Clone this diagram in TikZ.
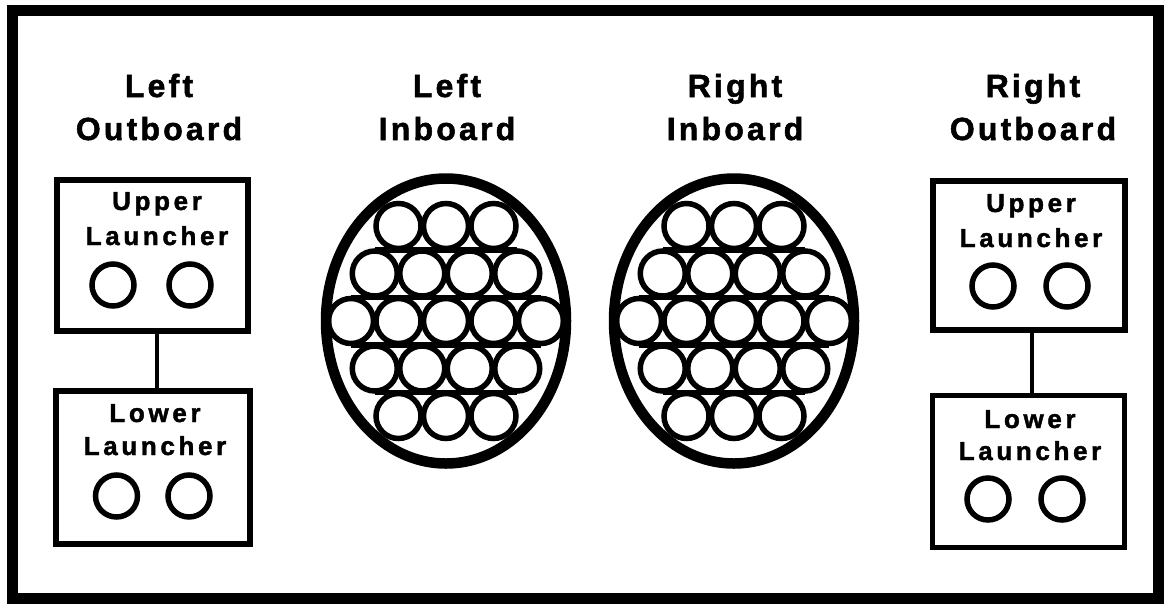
\documentclass[tikz,border=0pt]{standalone}
\usepackage{fontspec}
\setmainfont{Liberation Sans}
\newfontfamily\ttlfont[LetterSpace=10, BoldFeatures={FakeBold=1.6}]{Liberation Sans}
\newfontfamily\lblfont[LetterSpace=14, BoldFeatures={FakeBold=1.6}]{Liberation Sans}
\begin{document}
\begin{tikzpicture}[x=1pt,y=-1pt,
  ttl/.style={font=\ttlfont\bfseries\fontsize{32}{38}\selectfont, anchor=base, inner sep=0pt},
  lbl/.style={font=\lblfont\bfseries\fontsize{26}{30}\selectfont, anchor=base, inner sep=0pt},
  lbox/.style={draw, line width=5.5pt, inner sep=0pt, outer sep=0pt},
  hole/.style={draw, circle, line width=5.5pt, minimum size=42pt, inner sep=0pt, outer sep=0pt},
  link/.style={line width=4.5pt},
  tube/.style={line width=5.5pt},
  pod/.style={line width=10.5pt},
  frame/.style={line width=11pt}
]
\useasboundingbox (0,0) rectangle (1167,606);
\draw[frame] (12.5,10) rectangle (1158,598.5);

% titles
\node[ttl] (t1a) at (159,97) {Left};
\node[ttl] (t1b) at (159,140) {Outboard};
\node[ttl] (t2a) at (447,97) {Left};
\node[ttl] (t2b) at (447,140) {Inboard};
\node[ttl] (t3a) at (735,97) {Right};
\node[ttl] (t3b) at (735,140) {Inboard};
\node[ttl] (t4a) at (1033,97) {Right};
\node[ttl] (t4b) at (1033,140) {Outboard};

% left outboard launchers
\node[lbox, minimum width=191pt, minimum height=151pt] (lu) at (152.5,255.5) {};
\node[lbl] (lu1) at (157,210) {Upper};
\node[lbl] (lu2) at (157,245) {Launcher};
\node[hole] (luc1) at (113,285) {};
\node[hole] (luc2) at (190,285) {};

\node[lbox, minimum width=194pt, minimum height=153pt] (ll) at (153,467.5) {};
\node[lbl] (ll1) at (155,422) {Lower};
\node[lbl] (ll2) at (155,455) {Launcher};
\node[hole] (llc1) at (116.5,496) {};
\node[hole] (llc2) at (189,496) {};

\draw[link] ([xshift=4.5pt]lu.south) -- ([xshift=4.5pt]lu.south |- ll.north);

% right outboard launchers
\node[lbox, minimum width=192pt, minimum height=149pt] (ru) at (1029,255.5) {};
\node[lbl] (ru1) at (1031,212) {Upper};
\node[lbl] (ru2) at (1031,247) {Launcher};
\node[hole] (ruc1) at (993,286) {};
\node[hole] (ruc2) at (1067,286) {};

\node[lbox, minimum width=192pt, minimum height=152pt] (rl) at (1028.5,471.5) {};
\node[lbl] (rl1) at (1030,428) {Lower};
\node[lbl] (rl2) at (1030,460) {Launcher};
\node[hole] (rlc1) at (988,499) {};
\node[hole] (rlc2) at (1062,499) {};

\draw[link] ([xshift=3pt]ru.south) -- ([xshift=3pt]ru.south |- rl.north);

% inboard pods
\foreach \cx in {446,734} {
  \def\cy{321}
  \foreach \r/\n/\off in {-2/3/-1, -1/4/-1.5, 0/5/-2, 1/4/-1.5, 2/3/-1} {
    \pgfmathtruncatemacro{\last}{\n-1}
    \foreach \i in {0,...,\last} {
      \draw[tube] ({\cx+(\off+\i)*47.5},{\cy+\r*47.5}) circle[radius=22.5];
    }
  }
  \foreach \r/\w in {-1.5/1.5, -0.5/2, 0.5/2, 1.5/1.5} {
    \draw[tube] ({\cx-\w*47.5},{\cy+\r*47.5}) -- ({\cx+\w*47.5},{\cy+\r*47.5});
  }
  \draw[pod] (\cx,\cy) ellipse[x radius=120, y radius=142.5];
}
\end{tikzpicture}
\end{document}
